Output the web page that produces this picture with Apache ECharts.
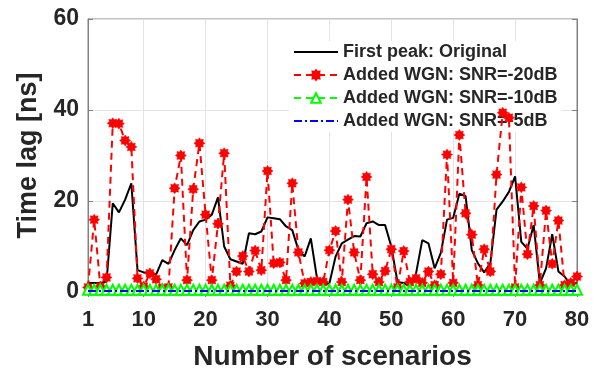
<!DOCTYPE html>
<html>
<head>
<meta charset="utf-8">
<script src="https://cdn.jsdelivr.net/npm/echarts@6/dist/echarts.min.js"></script>
<style>
  html, body { margin: 0; padding: 0; background: #fff; }
  #chart { width: 607px; height: 370px; }
</style>
</head>
<body>
<div id="chart"></div>
<script>
// Scenario index along the x axis
const scenarios = Array.from({ length: 80 }, (_, i) => i + 1);

// Tick labels
const xTicks = [1, 10, 20, 30, 40, 50, 60, 70, 80];
const yTicks = [0, 20, 40, 60];

// Time lag of the first peak [ns]
const original = [
  2.0, 2.0, 2.0, 2.3, 19.5, 17.5, 20.3, 23.9, 4.8, 4.3,
  4.3, 3.8, 7.0, 6.2, 9.2, 11.8, 10.3, 13.6, 15.5, 15.9,
  17.0, 20.8, 10.0, 7.2, 6.7, 6.2, 12.9, 12.7, 13.3, 16.4,
  16.2, 16.0, 14.4, 13.6, 9.2, 7.8, 11.8, 3.0, 1.6, 1.9,
  7.8, 10.7, 11.5, 12.3, 12.2, 15.1, 15.5, 14.7, 14.7, 10.0,
  2.2, 2.0, 1.2, 4.1, 11.4, 10.7, 5.2, 8.6, 15.9, 16.3,
  21.6, 21.1, 9.2, 6.3, 4.3, 6.3, 18.1, 19.9, 22.0, 25.4,
  11.0, 9.5, 14.7, 1.9, 5.2, 12.7, 4.5, 3.4, 1.5, 2.0
];

const snrMinus20 = [
  1.0, 15.9, 1.2, 3.2, 37.1, 37.0, 33.3, 31.9, 3.0, 1.2,
  4.1, 2.8, 0.8, 1.0, 22.8, 30.0, 2.6, 22.6, 32.7, 17.0,
  2.6, 15.0, 30.5, 1.4, 4.5, 7.9, 4.5, 9.1, 4.8, 26.6,
  6.3, 6.5, 2.6, 23.9, 8.7, 1.9, 2.2, 2.4, 2.2, 9.2,
  13.4, 2.2, 20.3, 8.7, 2.6, 25.3, 3.9, 2.2, 4.6, 9.4,
  1.0, 9.0, 2.2, 3.0, 2.0, 4.5, 1.5, 3.9, 30.2, 2.0,
  34.5, 17.3, 12.6, 1.5, 9.4, 4.5, 25.8, 39.4, 38.3, 1.0,
  23.0, 8.3, 18.9, 1.5, 17.9, 6.2, 15.7, 1.5, 2.0, 3.4
];

const snrMinus10 = [
  0.5, 0.5, 0.5, 0.5, 0.5, 0.5, 0.5, 0.5, 0.5, 0.5,
  0.5, 0.5, 0.5, 0.5, 0.5, 0.5, 0.5, 0.5, 0.5, 0.5,
  0.5, 0.5, 0.5, 0.5, 0.5, 0.5, 0.5, 0.5, 0.5, 0.5,
  0.5, 0.5, 0.5, 0.5, 0.5, 0.5, 0.5, 0.5, 0.5, 0.5,
  0.5, 0.5, 0.5, 0.5, 0.5, 0.5, 0.5, 0.5, 0.5, 0.5,
  0.5, 0.5, 0.5, 0.5, 0.5, 0.5, 0.5, 0.5, 0.5, 0.5,
  0.5, 0.5, 0.5, 0.5, 0.5, 0.5, 0.5, 0.5, 0.5, 0.5,
  0.5, 0.5, 0.5, 0.5, 0.5, 0.5, 0.5, 0.5, 0.5, 0.5
];

const snrMinus5 = [
  0.2, 0.2, 0.2, 0.2, 0.2, 0.2, 0.2, 0.2, 0.2, 0.2,
  0.2, 0.2, 0.2, 0.2, 0.2, 0.2, 0.2, 0.2, 0.2, 0.2,
  0.2, 0.2, 0.2, 0.2, 0.2, 0.2, 0.2, 0.2, 0.2, 0.2,
  0.2, 0.2, 0.2, 0.2, 0.2, 0.2, 0.2, 0.2, 0.2, 0.2,
  0.2, 0.2, 0.2, 0.2, 0.2, 0.2, 0.2, 0.2, 0.2, 0.2,
  0.2, 0.2, 0.2, 0.2, 0.2, 0.2, 0.2, 0.2, 0.2, 0.2,
  0.2, 0.2, 0.2, 0.2, 0.2, 0.2, 0.2, 0.2, 0.2, 0.2,
  0.2, 0.2, 0.2, 0.2, 0.2, 0.2, 0.2, 0.2, 0.2, 0.2
];

const seriesNames = [
  'First peak: Original',
  'Added WGN: SNR=-20dB',
  'Added WGN: SNR=-10dB',
  'Added WGN: SNR=-5dB'
];

// Asterisk-like star marker
function starPath(points, inner) {
  let d = '';
  for (let k = 0; k < points * 2; k++) {
    const r = k % 2 === 0 ? 1 : inner;
    const a = Math.PI * k / points - Math.PI / 2;
    const x = (r * Math.cos(a)).toFixed(3);
    const y = (r * Math.sin(a)).toFixed(3);
    d += (k === 0 ? 'M' : 'L') + x + ' ' + y + ' ';
  }
  return 'path://' + d + 'Z';
}
const asterisk = starPath(8, 0.68);

const pair = (vals) => scenarios.map((s, i) => [s, vals[i]]);

const FONT = '"Liberation Sans", Arial, sans-serif';
const TEXT = '#262626';
const BOX = '#808080';
const GRIDC = '#e3e3e3';

const chart = echarts.init(document.getElementById('chart'), null, { renderer: 'canvas' });

chart.setOption({
  animation: false,
  backgroundColor: '#fff',
  grid: {
    left: 88, right: 30, top: 19, bottom: 78,
    show: true, borderColor: BOX, borderWidth: 1,
    outerBoundsMode: 'none'
  },
  legend: {
    data: [
      { name: seriesNames[0], itemStyle: { opacity: 0 } },
      { name: seriesNames[1] },
      { name: seriesNames[2] },
      { name: seriesNames[3], itemStyle: { opacity: 0 } }
    ],
    orient: 'vertical',
    left: 289, top: 41,
    itemWidth: 44, itemHeight: 12, itemGap: 5,
    padding: [2, 4],
    backgroundColor: '#fff',
    z: 1,
    textStyle: { fontFamily: FONT, fontSize: 18, fontWeight: 'bold', color: TEXT, lineHeight: 18 }
  },
  xAxis: [{
    type: 'value', min: 1, max: 80,
    name: 'Number of scenarios', nameLocation: 'middle', nameGap: 51,
    nameTextStyle: { fontFamily: FONT, fontSize: 28, fontWeight: 'bold', color: TEXT },
    axisLine: { show: true, lineStyle: { color: BOX, width: 1 } },
    axisTick: { show: true, inside: true, length: 5, customValues: xTicks, lineStyle: { color: BOX } },
    axisLabel: { customValues: xTicks, margin: 17, fontFamily: FONT, fontSize: 22, fontWeight: 'bold', color: TEXT },
    splitLine: { show: true, lineStyle: { color: GRIDC, width: 1 } }
  }, {
    type: 'value', min: 1, max: 80, position: 'top',
    axisLine: { show: true, lineStyle: { color: BOX, width: 1 } },
    axisTick: { show: true, inside: true, length: 5, customValues: xTicks, lineStyle: { color: BOX } },
    axisLabel: { show: false },
    splitLine: { show: false }
  }],
  yAxis: [{
    type: 'value', min: 0, max: 60, interval: 20,
    name: 'Time lag [ns]', nameLocation: 'middle', nameGap: 44,
    nameTextStyle: { fontFamily: FONT, fontSize: 27, fontWeight: 'bold', color: TEXT },
    axisLine: { show: true, lineStyle: { color: BOX, width: 1 } },
    axisTick: { show: true, inside: true, length: 5, lineStyle: { color: BOX } },
    axisLabel: { margin: 9, fontFamily: FONT, fontSize: 23, fontWeight: 'bold', color: TEXT,
      formatter: (v) => (yTicks.indexOf(v) >= 0 ? String(v) : '') },
    splitLine: { show: true, lineStyle: { color: GRIDC, width: 1 } }
  }, {
    type: 'value', min: 0, max: 60, interval: 20, position: 'right',
    axisLine: { show: true, lineStyle: { color: BOX, width: 1 } },
    axisTick: { show: true, inside: true, length: 5, lineStyle: { color: BOX } },
    axisLabel: { show: false },
    splitLine: { show: false }
  }],
  series: [
    {
      name: seriesNames[0], type: 'line', data: pair(original),
      symbol: 'none', z: 2,
      lineStyle: { color: '#000', width: 2 },
      itemStyle: { color: '#000' }
    },
    {
      name: seriesNames[1], type: 'line', data: pair(snrMinus20),
      symbol: asterisk, symbolSize: 11, showAllSymbol: true, z: 3,
      lineStyle: { color: '#ff0000', width: 2, type: [7, 5] },
      itemStyle: { color: '#ff0000', borderColor: '#ff0000', borderWidth: 0.5 }
    },
    {
      name: seriesNames[2], type: 'line', data: pair(snrMinus10),
      symbol: 'triangle', symbolSize: 10, showAllSymbol: true, z: 4,
      lineStyle: { color: '#00ff00', width: 2, type: [7, 5] },
      itemStyle: { color: '#fff', borderColor: '#00ff00', borderWidth: 2 }
    },
    {
      name: seriesNames[3], type: 'line', data: pair(snrMinus5),
      symbol: 'none', z: 5,
      lineStyle: { color: '#0000ff', width: 2, type: [8, 3, 2, 3] },
      itemStyle: { color: '#0000ff' }
    }
  ]
});
</script>
</body>
</html>
